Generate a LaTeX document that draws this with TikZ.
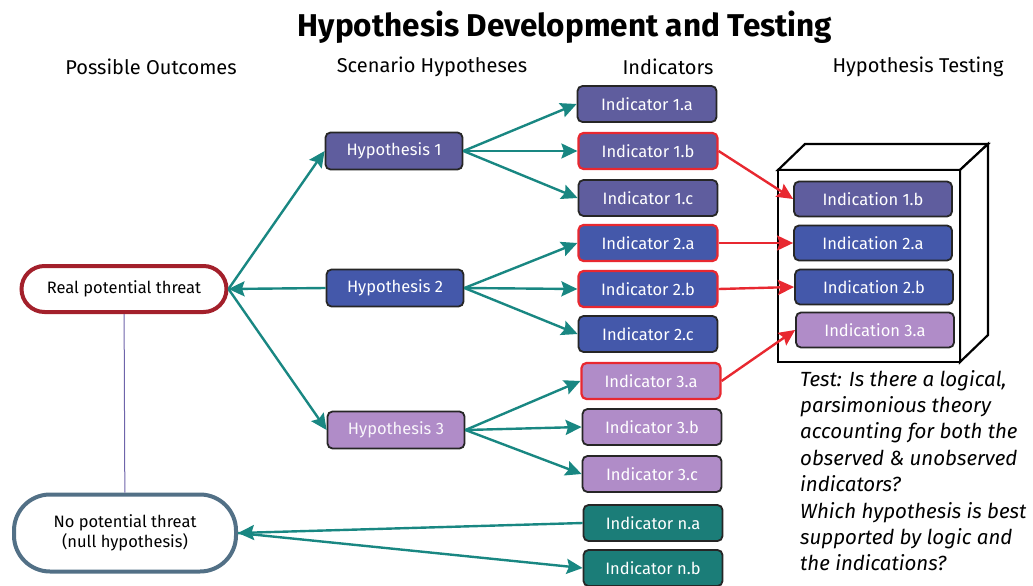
\documentclass[tikz,border=0pt]{standalone}
\usepackage{fontspec}
\setmainfont{Fira Sans}
\usetikzlibrary{arrows.meta}
\definecolor{cpur}{RGB}{95,93,158}
\definecolor{cblue}{RGB}{68,88,170}
\definecolor{clav}{RGB}{176,140,200}
\definecolor{cteal}{RGB}{27,125,120}
\definecolor{carrow}{RGB}{25,135,130}
\definecolor{cred}{RGB}{232,40,48}
\definecolor{cdarkred}{RGB}{163,32,43}
\definecolor{cslate}{RGB}{82,112,134}
\definecolor{cline}{RGB}{110,100,170}
\begin{document}
\begin{tikzpicture}[x=1pt,y=-1pt,
  box/.style={draw=black!85, line width=1.8pt, rounded corners=5pt, text=white,
    font=\fontsize{16.5}{19}\selectfont, inner sep=0pt},
  hyp/.style={box, minimum width=137pt, minimum height=37pt},
  ind/.style={box, minimum width=139pt, minimum height=36pt},
  indc/.style={box, minimum width=158pt, minimum height=35pt},
  hot/.style={draw=cred, line width=2.2pt},
  outc/.style={fill=white, line width=4pt, font=\fontsize{16.5}{20}\selectfont, align=center, inner sep=0pt},
  tarr/.style={draw=carrow, line width=2.4pt, -{Stealth[length=16pt,width=15pt,inset=2.5pt]}},
  rarr/.style={draw=cred, line width=2.4pt, -{Stealth[length=16pt,width=15pt,inset=2.5pt]}},
  head/.style={font=\fontsize{20}{24}\selectfont}
]
\useasboundingbox (0,0) rectangle (1033,586);

% titles
\node[font=\fontsize{31.5}{36}\selectfont\bfseries] (title) at (565,27) {Hypothesis Development and Testing};
\node[head] (h-out) at (151,67) {Possible Outcomes};
\node[head] (h-hyp) at (432,67) {Scenario Hypotheses};
\node[head] (h-ind) at (668,67) {Indicators};
\node[head] (h-test) at (918,67) {Hypothesis Testing};

% outcomes
\node[outc, draw=cdarkred, minimum width=205pt, minimum height=46pt, rounded corners=23pt] (real) at (124,289) {Real potential threat};
\node[outc, draw=cslate, minimum width=222pt, minimum height=77pt, rounded corners=36pt] (null) at (125,533) {No potential threat\\(null hypothesis)};
\draw[cline, line width=1pt] (real) -- (null);

% hypotheses
\node[hyp, fill=cpur] (hy1) at (394,151) {Hypothesis 1};
\node[hyp, fill=cblue] (hy2) at (395,288) {Hypothesis 2};
\node[hyp, fill=clav, text=white!92!clav] (hy3) at (396,430) {Hypothesis 3};

% indicators
\node[ind, fill=cpur] (i1a) at (647,104) {Indicator 1.a};
\node[ind, fill=cpur, hot] (i1b) at (648,151) {Indicator 1.b};
\node[ind, fill=cpur] (i1c) at (648,198) {Indicator 1.c};
\node[ind, fill=cblue, hot] (i2a) at (648,243) {Indicator 2.a};
\node[ind, fill=cblue, hot] (i2b) at (648,289) {Indicator 2.b};
\node[ind, fill=cblue] (i2c) at (648,334) {Indicator 2.c};
\node[ind, fill=clav, hot] (i3a) at (651,381) {Indicator 3.a};
\node[ind, fill=clav] (i3b) at (652,427) {Indicator 3.b};
\node[ind, fill=clav] (i3c) at (652,474) {Indicator 3.c};
\node[ind, fill=cteal] (ina) at (653,523) {Indicator n.a};
\node[ind, fill=cteal] (inb) at (653,568) {Indicator n.b};

% 3D container
\draw[line width=2.2pt, fill=white, line join=miter] (778,170) -- (805,144) -- (988,144) -- (960,170) -- cycle;
\draw[line width=2.2pt, fill=white, line join=miter] (960,170) -- (988,144) -- (988,335) -- (960,362) -- cycle;
\draw[line width=2.2pt, fill=white] (778,170) rectangle (960,362);

% indications
\node[indc, fill=cpur] (d1b) at (873,199) {Indication 1.b};
\node[indc, fill=cblue] (d2a) at (873,243) {Indication 2.a};
\node[indc, fill=cblue] (d2b) at (874,287) {Indication 2.b};
\node[indc, fill=clav] (d3a) at (875,330) {Indication 3.a};

% teal arrows
\draw[tarr] (real.east) -- (hy1.west);
\draw[tarr] (hy2.west) -- (real.east);
\draw[tarr] (real.east) -- (hy3.west);
\draw[tarr] (hy1.east) -- (i1a.west);
\draw[tarr] (hy1.east) -- (i1b.west);
\draw[tarr] (hy1.east) -- (i1c.west);
\draw[tarr] (hy2.east) -- (i2a.west);
\draw[tarr] (hy2.east) -- (i2b.west);
\draw[tarr] (hy2.east) -- (i2c.west);
\draw[tarr] (hy3.east) -- (i3a.west);
\draw[tarr] (hy3.east) -- (i3b.west);
\draw[tarr] (hy3.east) -- (i3c.west);
\draw[tarr] (ina.west) -- (null.east);
\draw[tarr] (null.east) -- (inb.west);

% red arrows
\draw[rarr] (i1b.east) -- (d1b.west);
\draw[rarr] (i2a.east) -- (d2a.west);
\draw[rarr] (i2b.east) -- (d2b.west);
\draw[rarr] (i3a.east) -- (d3a.west);

% test text
\node[anchor=north west, align=left, font=\fontsize{20.5}{26.4}\selectfont\itshape, inner sep=0pt] (test) at (800,370)
{Test: Is there a logical,\\parsimonious theory\\accounting for both the\\observed \& unobserved\\indicators?\\Which hypothesis is best\\supported by logic and\\the indications?};
\end{tikzpicture}
\end{document}
